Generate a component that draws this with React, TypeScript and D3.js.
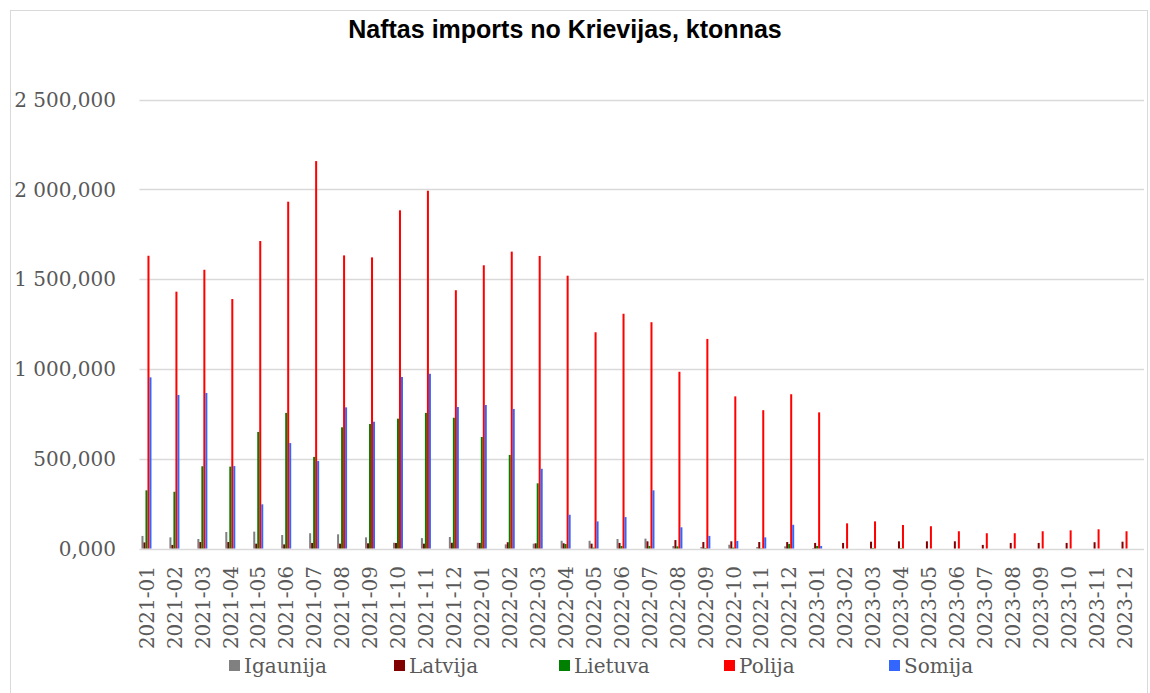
import React, { useEffect, useRef } from "react";
import * as d3 from "d3";

const categories = [
  "2021-01","2021-02","2021-03","2021-04","2021-05","2021-06","2021-07","2021-08","2021-09","2021-10","2021-11","2021-12",
  "2022-01","2022-02","2022-03","2022-04","2022-05","2022-06","2022-07","2022-08","2022-09","2022-10","2022-11","2022-12",
  "2023-01","2023-02","2023-03","2023-04","2023-05","2023-06","2023-07","2023-08","2023-09","2023-10","2023-11","2023-12",
];

// ktonnas
const igaunija = [70, 62, 53, 92, 94, 75, 85, 79, 62, 32, 58, 64,
  32, 23, 27, 43, 43, 53, 55, 14, 8, 21, 8, 12,
  3, 0, 0, 0, 0, 0, 0, 0, 0, 0, 0, 0];
const latvija = [34, 20, 36, 36, 27, 23, 31, 27, 29, 31, 27, 32,
  31, 35, 29, 29, 27, 31, 40, 47, 36, 40, 36, 36,
  31, 31, 38, 40, 40, 40, 20, 31, 31, 31, 35, 38];
const lietuva = [324, 316, 458, 456, 649, 755, 510, 675, 693, 723, 755, 728,
  621, 521, 363, 25, 5, 14, 14, 12, 3, 5, 2, 25,
  14, 0, 3, 3, 0, 0, 0, 0, 0, 0, 0, 0];
const polija = [1630, 1430, 1552, 1389, 1712, 1931, 2157, 1632, 1621, 1883, 1992, 1438,
  1577, 1653, 1629, 1519, 1204, 1307, 1260, 984, 1167, 847, 770, 859,
  758, 140, 151, 131, 124, 96, 85, 85, 96, 101, 107, 96];
const somija = [953, 855, 866, 459, 246, 587, 487, 786, 706, 955, 973, 788,
  799, 777, 444, 188, 151, 175, 324, 118, 70, 42, 62, 132,
  14, 0, 0, 0, 0, 0, 0, 0, 0, 0, 0, 0];

const seriesNames = ["Igaunija", "Latvija", "Lietuva", "Polija", "Somija"];
const seriesColors = ["#808080", "#800000", "#008000", "#ff0000", "#3366ff"];
const yTicks = [0, 500, 1000, 1500, 2000, 2500];
const title = "Naftas imports no Krievijas, ktonnas";

export default function App() {
  const ref = useRef<SVGSVGElement>(null);

  useEffect(() => {
    const svg = d3.select(ref.current);
    svg.selectAll("*").remove();
    const W = 1150, H = 693;
    const seriesData = [igaunija, latvija, lietuva, polija, somija];

    svg.append("rect").attr("x", 0).attr("y", 0).attr("width", W).attr("height", H).attr("fill", "#fff");
    svg.append("rect").attr("x", 10.5).attr("y", 10.5).attr("width", 1137).attr("height", 700)
      .attr("fill", "none").attr("stroke", "#d9d9d9").attr("stroke-width", 1);

    const y = d3.scaleLinear().domain([0, 2500]).range([548.5, 99.5]);
    const x = d3.scaleBand().domain(categories).range([132.5, 1138.5]).padding(0);
    const x1 = d3.scaleBand().domain(seriesNames).range([x.bandwidth() / 2 - 5, x.bandwidth() / 2 + 5]);

    const locale = d3.formatLocale({ decimal: ",", thousands: "\u00a0", grouping: [3], currency: ["", ""] });
    const fmt = locale.format(",.3f");

    const gridX0 = 139.5, gridX1 = 1144;
    svg.append("g").selectAll("line").data(yTicks).join("line")
      .attr("x1", gridX0).attr("x2", gridX1)
      .attr("y1", (d) => Math.round(y(d)) + 0.5).attr("y2", (d) => Math.round(y(d)) + 0.5)
      .attr("stroke", "#d9d9d9").attr("stroke-width", 1.5);

    svg.append("g").selectAll("text").data(yTicks).join("text")
      .attr("x", 116).attr("y", (d) => y(d)).attr("dy", "0.36em")
      .attr("text-anchor", "end").attr("font-family", "DejaVu Serif").attr("font-size", 20)
      .attr("fill", "#595959").text((d) => fmt(d));

    const groups = svg.append("g").selectAll("g").data(categories).join("g")
      .attr("transform", (c) => `translate(${x(c)},0)`);
    groups.selectAll("rect").data((c, i) => seriesNames.map((s, k) => ({ s, k, v: seriesData[k][i] })))
      .join("rect")
      .attr("x", (d) => x1(d.s)!).attr("width", x1.bandwidth())
      .attr("y", (d) => y(d.v)).attr("height", (d) => y(0) - y(d.v))
      .attr("fill", (d) => seriesColors[d.k]);

    svg.append("g").selectAll("text").data(categories).join("text")
      .attr("transform", (c) => `translate(${x(c)! + x.bandwidth() / 2},566) rotate(-90)`)
      .attr("dy", "0.36em").attr("text-anchor", "end")
      .attr("font-family", "DejaVu Serif").attr("font-size", 20).attr("fill", "#595959")
      .text((c) => c);

    svg.append("text").attr("x", 565).attr("y", 38).attr("text-anchor", "middle")
      .attr("font-family", "Liberation Sans, Arial, sans-serif").attr("font-weight", "bold")
      .attr("font-size", 25).attr("fill", "#000").text(title);

    const legend = svg.append("g");
    const legendX0 = 229, legendStep = 165;
    seriesNames.forEach((s, k) => {
      const lx = legendX0 + k * legendStep;
      legend.append("rect").attr("x", lx).attr("y", 660).attr("width", 11).attr("height", 11).attr("fill", seriesColors[k]);
      legend.append("text").attr("x", lx + 15).attr("y", 666).attr("dy", "0.36em")
        .attr("font-family", "DejaVu Serif").attr("font-size", 20).attr("fill", "#595959").text(s);
    });
  }, []);

  return (
    <svg ref={ref} width={1150} height={693}
      style={{ position: "absolute", left: 0, top: 0, display: "block" }} />
  );
}
